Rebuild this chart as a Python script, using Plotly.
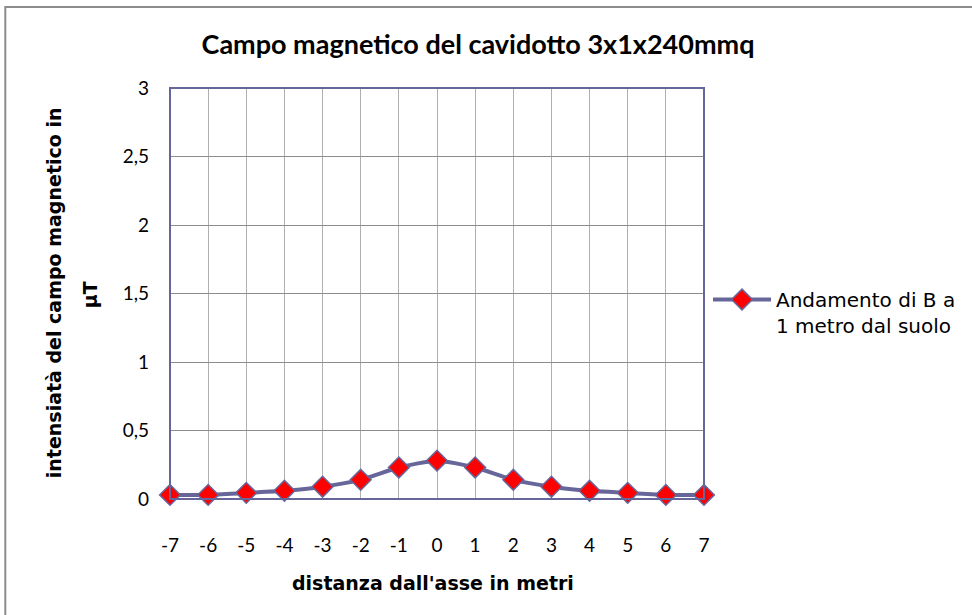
import plotly.graph_objects as go

distances = [-7, -6, -5, -4, -3, -2, -1, 0, 1, 2, 3, 4, 5, 6, 7]
b_values = [0.03, 0.03, 0.045, 0.06, 0.09, 0.14, 0.23, 0.28, 0.23, 0.14, 0.09, 0.06, 0.045, 0.03, 0.03]
y_ticks = [0, 0.5, 1, 1.5, 2, 2.5, 3]

FONT = "Lato"
WIDE = "DejaVu Sans"
LINE = "#66669a"

fig = go.Figure()
fig.add_trace(go.Scatter(
    x=distances, y=b_values, mode="lines+markers",
    name="Andamento di B a<br>1 metro dal suolo",
    line=dict(color=LINE, width=4, shape="spline", smoothing=0.6),
    marker=dict(symbol="diamond", size=16, color="red", line=dict(color=LINE, width=1.5)),
    cliponaxis=False,
))

L, R, T, B = 170, 705, 88, 499
W, H = 972, 615

def px(x):
    return (x - L) / (R - L)

def py(y):
    return (B - y) / (B - T)

fig.update_layout(
    width=W, height=H,
    margin=dict(l=L, r=W - R, t=T, b=H - B),
    paper_bgcolor="white", plot_bgcolor="white",
    separators=",.",
    font=dict(family=FONT, color="black", size=19),
    title=dict(text="<b>Campo magnetico del cavidotto 3x1x240mmq</b>",
               x=478 / W, xanchor="center", y=1 - 45 / H, yanchor="middle",
               font=dict(size=27, family=FONT)),
    showlegend=True,
    legend=dict(x=px(708), xanchor="left", y=py(280), yanchor="top",
                valign="top", font=dict(size=20, family=WIDE),
                itemwidth=58,
                bgcolor="rgba(0,0,0,0)", tracegroupgap=0),
    xaxis=dict(range=[-7, 7], tickmode="array", tickvals=distances,
               ticktext=[str(d) for d in distances],
               showgrid=True, gridcolor="#b0b0b0", gridwidth=1,
               zeroline=False, showline=False, ticks="",
               ticklabelstandoff=33, tickfont=dict(size=19)),
    yaxis=dict(range=[0, 3], tickmode="array", tickvals=y_ticks,
               showgrid=True, gridcolor="#8c8c8c", gridwidth=1,
               zeroline=False, showline=False, ticks="",
               ticklabelstandoff=20, tickfont=dict(size=19)),
    shapes=[
        dict(type="rect", xref="paper", yref="paper", x0=0, x1=1, y0=0, y1=1,
             line=dict(color=LINE, width=2), layer="above"),
        dict(type="rect", xref="paper", yref="paper",
             x0=px(5), x1=px(990), y0=py(640), y1=py(7),
             line=dict(color="#8c8c8c", width=2)),
    ],
    annotations=[
        dict(text="<b>distanza dall'asse in metri</b>", xref="paper", yref="paper",
             x=px(433), y=py(583), xanchor="center", yanchor="middle",
             showarrow=False, font=dict(size=19, family=WIDE)),
        dict(text="<b>intensiatà del campo magnetico in</b>", xref="paper", yref="paper",
             x=px(54), y=py(293), xanchor="center", yanchor="middle", textangle=-90,
             showarrow=False, font=dict(size=19, family=WIDE)),
        dict(text="<b>µT</b>", xref="paper", yref="paper",
             x=px(90), y=py(295), xanchor="center", yanchor="middle", textangle=-90,
             showarrow=False, font=dict(size=19, family=WIDE)),
    ],
)

fig.write_html("out.html", config={"displayModeBar": False},
               post_script="document.body.style.margin='0';")
